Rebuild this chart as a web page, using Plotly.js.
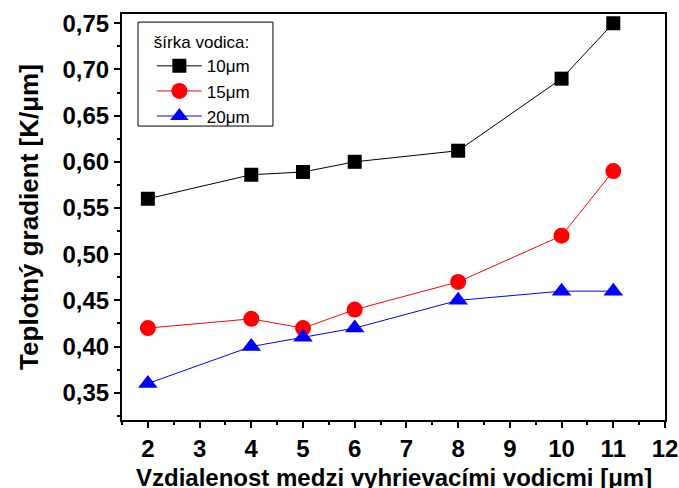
<!DOCTYPE html>
<html>
<head>
<meta charset="utf-8">
<script src="https://cdn.plot.ly/plotly-3.0.1.min.js"></script>
<style>html,body{margin:0;padding:0;background:#fff;}#chart{width:679px;height:488px;}</style>
</head>
<body>
<div id="chart"></div>
<script>
var xValues = [2, 4, 5, 6, 8, 10, 11];
var w10 = [0.56, 0.586, 0.589, 0.60, 0.612, 0.69, 0.75];
var w15 = [0.42, 0.43, 0.42, 0.44, 0.47, 0.52, 0.59];
var w20 = [0.36, 0.40, 0.41, 0.42, 0.45, 0.46, 0.46];
var seriesNames = ['10\u03bcm', '15\u03bcm', '20\u03bcm'];
var legendTitle = 'šírka vodica:';
var xTitle = 'Vzdialenost medzi vyhrievacími vodicmi [\u03bcm]';
var yTitle = 'Teplotný gradient [K/\u03bcm]';

var traces = [
  {x: xValues, y: w10, name: seriesNames[0], mode: 'lines+markers', type: 'scatter',
   line: {color: '#000000', width: 1}, marker: {symbol: 'square', size: 14, color: '#000000'}},
  {x: xValues, y: w15, name: seriesNames[1], mode: 'lines+markers', type: 'scatter',
   line: {color: '#ff0000', width: 1}, marker: {symbol: 'circle', size: 16, color: '#ff0000'}},
  {x: xValues, y: w20, name: seriesNames[2], mode: 'lines+markers', type: 'scatter',
   line: {color: '#0000ff', width: 1}, marker: {symbol: 'triangle-up', size: 17, color: '#0000ff'}}
];

var fam = 'Liberation Sans, Arial, sans-serif';
var tickFont = {family: fam, size: 24, color: '#000', weight: 'bold'};
var layout = {
  width: 679, height: 488,
  margin: {l: 122, r: 14, t: 14, b: 68},
  paper_bgcolor: '#fff', plot_bgcolor: '#fff',
  showlegend: true,
  legend: {
    x: 0.055, y: 0.97, xanchor: 'left', yanchor: 'top',
    bgcolor: 'rgba(0,0,0,0)', borderwidth: 0,
    font: {family: fam, size: 17, color: '#000'},
    title: {text: legendTitle, font: {family: fam, size: 17, color: '#000'}},
    tracegroupgap: 0, itemwidth: 45
  },
  shapes: [{type: 'rect', xref: 'paper', yref: 'paper', x0: 0.0295, x1: 0.278, y0: 0.724, y1: 0.980,
            line: {color: '#000', width: 1}, fillcolor: 'rgba(0,0,0,0)', layer: 'below'}],
  annotations: [{text: xTitle, xref: 'paper', yref: 'paper', x: 0.5, y: 0, xanchor: 'center', yanchor: 'top',
                 yshift: -42, showarrow: false,
                 font: {family: fam, size: 24, color: '#000', weight: 'bold'}}],
  xaxis: {
    range: [1.5, 12], tickmode: 'array', tickvals: [2,3,4,5,6,7,8,9,10,11,12],
    ticks: 'outside', ticklen: 6, tickwidth: 1.5, tickcolor: '#000',
    minor: {dtick: 0.5, tick0: 0, ticks: 'outside', ticklen: 3, tickwidth: 1.5, tickcolor: '#000', showgrid: false},
    showline: true, linecolor: '#000', linewidth: 2, mirror: true,
    showgrid: false, zeroline: false,
    tickfont: tickFont
  },
  yaxis: {
    range: [0.3205, 0.76], tickmode: 'array', tickvals: [0.35,0.40,0.45,0.50,0.55,0.60,0.65,0.70,0.75],
    ticktext: ['0,35','0,40','0,45','0,50','0,55','0,60','0,65','0,70','0,75'],
    ticks: 'outside', ticklen: 6, tickwidth: 1.5, tickcolor: '#000',
    minor: {dtick: 0.025, tick0: 0, ticks: 'outside', ticklen: 3, tickwidth: 1.5, tickcolor: '#000', showgrid: false},
    showline: true, linecolor: '#000', linewidth: 2, mirror: true,
    showgrid: false, zeroline: false,
    tickfont: tickFont,
    title: {text: yTitle, font: {family: fam, size: 26, color: '#000', weight: 'bold'}, standoff: 16}
  }
};
Plotly.newPlot('chart', traces, layout, {displayModeBar: false});
</script>
</body>
</html>
